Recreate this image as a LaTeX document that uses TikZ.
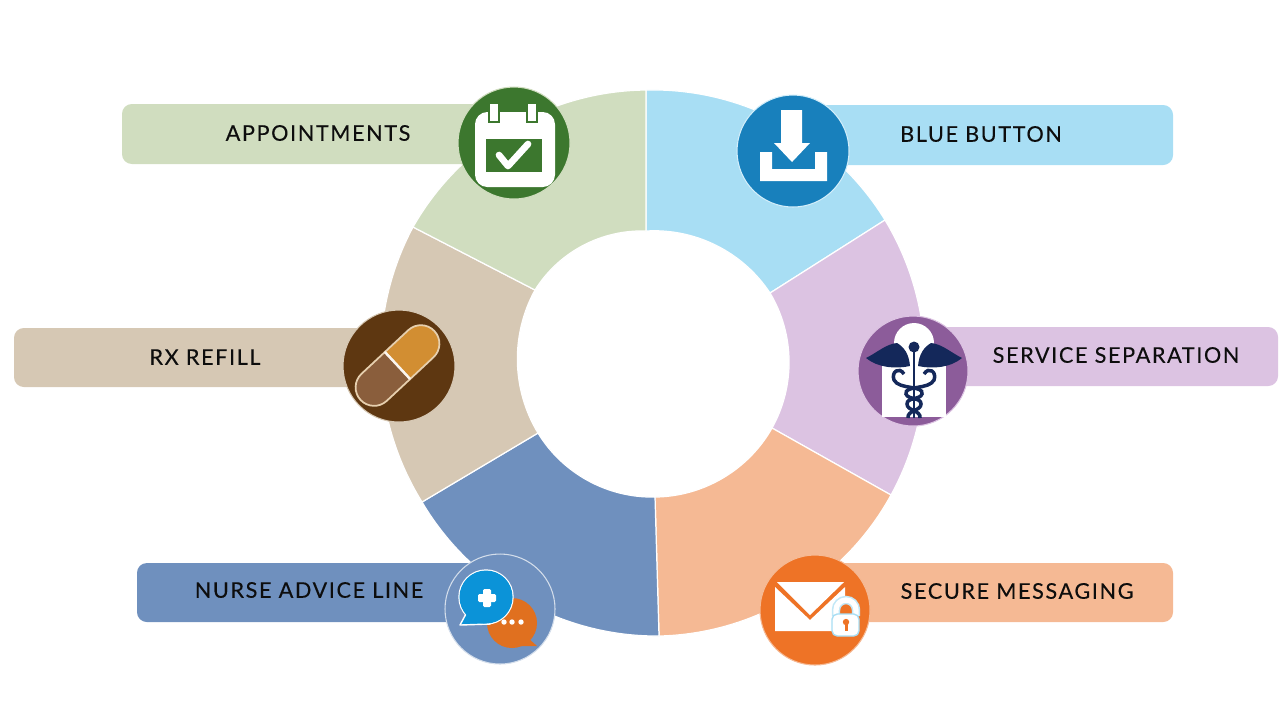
\documentclass[tikz,border=0pt]{standalone}
\usepackage{fontspec}
\newfontfamily\labelfont[LetterSpace=7.5,FakeBold=0.2]{Lato}
\definecolor{apptfill}{HTML}{D0DDBF}
\definecolor{bluefill}{HTML}{A8DEF4}
\definecolor{servfill}{HTML}{DCC3E2}
\definecolor{securefill}{HTML}{F5B994}
\definecolor{nursefill}{HTML}{6F90BE}
\definecolor{rxfill}{HTML}{D6C8B4}
\definecolor{apptdark}{HTML}{3C772E}
\definecolor{bluedark}{HTML}{1880BC}
\definecolor{servdark}{HTML}{8C5C9A}
\definecolor{securedark}{HTML}{EE7326}
\definecolor{rxdark}{HTML}{5E3711}
\definecolor{navyline}{HTML}{14285A}
\definecolor{pillorange}{HTML}{D28E32}
\definecolor{pillbrown}{HTML}{8A5E3C}
\definecolor{pillline}{HTML}{E6CFAE}
\definecolor{chatblue}{HTML}{0B93D8}
\definecolor{chatorange}{HTML}{E0701F}
\tikzset{
  barshape/.style={rounded corners=2.8pt},
  barlabel/.style={font=\labelfont\fontsize{6.15pt}{7pt}\selectfont,text=black!95},
  iconcircle/.style={line width=0.3pt}
}

\begin{document}
\begin{tikzpicture}[x=0.01cm,y=-0.01cm]
    \useasboundingbox (0,0) rectangle (1280,720);

    % draw bars
    \fill[apptfill,barshape] (122,104) rectangle (490,164);
    \fill[bluefill,barshape] (800,105) rectangle (1173,165);
    \fill[servfill,barshape] (930,327) rectangle (1278,386);
    \fill[securefill,barshape] (830,563) rectangle (1173,622);
    \fill[nursefill,barshape] (137,563) rectangle (480,622);
    \fill[rxfill,barshape] (14,328) rectangle (380,387);

    % ring corners
    \coordinate (o1) at (646,90);
    \coordinate (o2) at (885,220);
    \coordinate (o3) at (891,495);
    \coordinate (o4) at (659,636);
    \coordinate (o5) at (422,502);
    \coordinate (o6) at (413,227);
    \coordinate (i1) at (646,231);
    \coordinate (i2) at (770,293);
    \coordinate (i3) at (772,428);
    \coordinate (i4) at (655,497);
    \coordinate (i5) at (538,433);
    \coordinate (i6) at (535,290);

    % draw ring
    \foreach \a/\b/\col in {1/2/bluefill,2/3/servfill,3/4/securefill,4/5/nursefill,5/6/rxfill,6/1/apptfill}
    \draw[white,line width=0.35pt,fill=\col,looseness=0.91] (o\a) to[bend left=30] (o\b) -- (i\b) to[bend right=30] (i\a) -- cycle;

    % draw labels
    \node[barlabel] (appt) at (318,133) {APPOINTMENTS};
    \node[barlabel] (blue) at (981,134) {BLUE BUTTON};
    \node[barlabel] (serv) at (1116,355) {SERVICE SEPARATION};
    \node[barlabel] (secure) at (1017,591) {SECURE MESSAGING};
    \node[barlabel] (nurse) at (309,590) {NURSE ADVICE LINE};
    \node[barlabel] (rx) at (205,357) {RX REFILL};

    % appointments icon
    \draw[iconcircle,draw=apptfill,fill=apptdark] (514,143) circle[radius=56];
    \fill[white,rounded corners=3.5pt] (475,112) rectangle (555,187);
    \fill[apptdark] (486,139) rectangle (542,172);
    \foreach \x in {494,532}
    \draw[fill=white,draw=apptdark,line width=0.5pt] (\x-5,103) rectangle (\x+5,122);
    \draw[white,line width=1.9pt,line cap=round,line join=round] (499,155) -- (508,166) -- (528,144);

    % blue button icon
    \draw[iconcircle,draw=bluefill!50,fill=bluedark] (793,151) circle[radius=56];
    \fill[white] (781,110) -- (802,110) -- (802,143) -- (810,143) -- (792,162) -- (774,143) -- (781,143) -- cycle;
    \fill[white] (760,152) -- (772,152) -- (772,169) -- (815,169) -- (815,152) -- (827,152) -- (827,181) -- (760,181) -- cycle;

    % service separation icon
    \draw[iconcircle,draw=servfill,fill=servdark] (913,371) circle[radius=55];
    \fill[white] (914,343) circle[radius=20];
    \fill[white] (882,362) rectangle (946,417);
    \begin{scope}[shift={(914,0)}]
    \foreach \s in {1,-1}
    \fill[navyline,xscale=\s] (-48,358) .. controls (-36,352) and (-28,344) .. (-17,343) .. controls (-10,347) and (-5,354) .. (-4,366) .. controls (-18,369) and (-36,368) .. (-48,358) -- cycle;
    \fill[navyline] (0,347) circle[radius=5.5];
    \draw[navyline,line width=0.8pt] (0,347) -- (0,418);
    \foreach \s in {1,-1}
    \draw[navyline,line width=1pt,xscale=\s] (10,374) .. controls (15,366) and (23,372) .. (20,380) .. controls (15,390) and (-10,385) .. (-8,394) .. controls (-6,400) and (7,397) .. (7,404) .. controls (7,411) and (-7,410) .. (-6,418);
    \end{scope}

    % rx refill icon
    \draw[iconcircle,draw=rxfill,fill=rxdark] (399,366) circle[radius=56];
    \begin{scope}[shift={(397.5,365.5)},rotate=43]
    \draw[pillline,line width=0.5pt,fill=pillorange] (0,-18.5) -- (32,-18.5) arc[start angle=-90,end angle=90,radius=18.5] -- (0,18.5) -- cycle;
    \draw[pillline,line width=0.5pt,fill=pillbrown] (0,-18.5) -- (-32,-18.5) arc[start angle=270,end angle=90,radius=18.5] -- (0,18.5) -- cycle;
    \draw[white!80!pillline,line width=0.7pt] (0,-18.5) -- (0,18.5);
    \end{scope}

    % nurse advice line icon
    \draw[iconcircle,draw=white!70!nursefill,fill=nursefill] (500,609) circle[radius=55];
    \fill[chatorange] (528,638) -- (537,646) -- (521,646) -- cycle;
    \fill[chatorange] (512,623) circle[radius=25];
    \foreach \x in {504,512,521}
    \fill[white] (\x,622) circle[radius=2.7];
    \draw[white,line width=0.4pt,fill=chatblue] (486,597) circle[radius=27];
    \draw[white,line width=0.4pt,fill=chatblue,line join=round] (467,612) -- (460,625) -- (490,624) -- cycle;
    \fill[chatblue] (486,597) circle[radius=26.5];
    \fill[white,rounded corners=0.4pt] (483,589) rectangle (491,607);
    \fill[white,rounded corners=0.4pt] (478,594) rectangle (496,602);

    % secure messaging icon
    \draw[iconcircle,draw=securefill,fill=securedark] (815,610) circle[radius=55];
    \fill[white] (777,582) -- (844,582) -- (810,615) -- cycle;
    \fill[white] (775,587) -- (810,620) -- (845,587) -- (845,631) -- (775,631) -- cycle;
    \draw[bluefill!70!white,fill=securedark,line width=2.4pt] (836,616) -- (836,610) arc[start angle=180,end angle=360,radius=10] -- (856,616);
    \draw[white,line width=1.5pt] (836,616) -- (836,610) arc[start angle=180,end angle=360,radius=10] -- (856,616);
    \draw[bluefill,line width=0.4pt,fill=white,rounded corners=1.5pt] (832,614) rectangle (859,636);
    \fill[securedark] (846,622) circle[radius=3.2];
    \fill[securedark] (844.5,623) rectangle (847.5,631);

\end{tikzpicture}
\end{document}
